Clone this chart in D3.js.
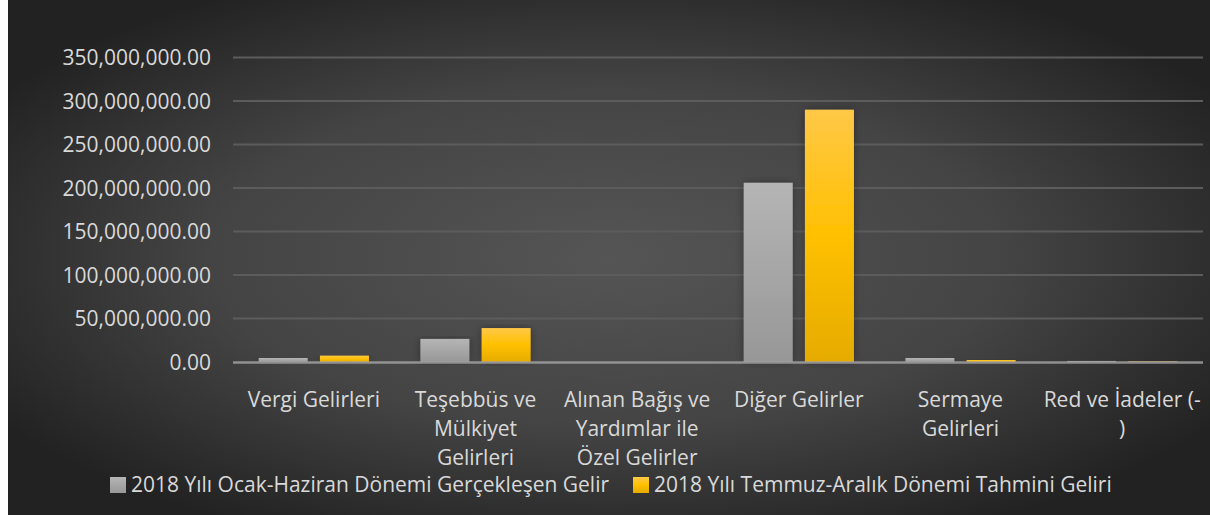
<!DOCTYPE html>
<html><head><meta charset="utf-8">
<script src="https://cdn.jsdelivr.net/npm/d3@7"></script>
<style>html,body{margin:0;padding:0;background:#fff;}svg{display:block;}</style>
</head><body>
<svg id="c" width="1210" height="515"></svg>
<script>
const categories = ["Vergi Gelirleri","Teşebbüs ve Mülkiyet Gelirleri","Alınan Bağış ve Yardımlar ile Özel Gelirler","Diğer Gelirler","Sermaye Gelirleri","Red ve İadeler (-)"];
const categoryLines = [["Vergi Gelirleri"],["Teşebbüs ve","Mülkiyet","Gelirleri"],["Alınan Bağış ve","Yardımlar ile","Özel Gelirler"],["Diğer Gelirler"],["Sermaye","Gelirleri"],["Red ve İadeler (-",")"]];
const seriesNames = ["2018 Yılı Ocak-Haziran Dönemi Gerçekleşen Gelir","2018 Yılı Temmuz-Aralık Dönemi Tahmini Geliri"];
const actualH1 = [4600000, 26500000, 0, 206000000, 4600000, 1200000];
const forecastH2 = [7300000, 39000000, 0, 290000000, 2300000, 700000];
const yTicks = [0,50000000,100000000,150000000,200000000,250000000,300000000,350000000];

(function(){
const svg = d3.select("#c");
const defs = svg.append("defs");
const bg = defs.append("radialGradient").attr("id","bg").attr("cx","0.5").attr("cy","0.5").attr("r","0.6");
bg.append("stop").attr("offset","0").attr("stop-color","#555555");
bg.append("stop").attr("offset","0.55").attr("stop-color","#444444");
bg.append("stop").attr("offset","1").attr("stop-color","#222222");
const gG = defs.append("linearGradient").attr("id","gGray").attr("x1",0).attr("y1",0).attr("x2",0).attr("y2",1);
gG.append("stop").attr("offset","0").attr("stop-color","#b5b5b5");
gG.append("stop").attr("offset","1").attr("stop-color","#979797");
const gO = defs.append("linearGradient").attr("id","gOrange").attr("x1",0).attr("y1",0).attr("x2",0).attr("y2",1);
gO.append("stop").attr("offset","0").attr("stop-color","#ffc847");
gO.append("stop").attr("offset","0.5").attr("stop-color","#ffc000");
gO.append("stop").attr("offset","1").attr("stop-color","#e5ab00");
const flt = defs.append("filter").attr("id","sh").attr("x","-30%").attr("y","-10%").attr("width","160%").attr("height","120%");
flt.append("feDropShadow").attr("dx",0).attr("dy",0).attr("stdDeviation",4).attr("flood-color","#000").attr("flood-opacity",0.35);

svg.append("rect").attr("x",8).attr("y",0).attr("width",1202).attr("height",515).attr("fill","url(#bg)");

const font = "'Open Sans', sans-serif";
const fs = "21px";
const pl = 233, pr = 1203, pt = 57.5, pb = 362;
const x = d3.scaleBand().domain(categories).range([pl,pr]).paddingInner(0).paddingOuter(0);
const y = d3.scaleLinear().domain([0,350000000]).range([pb,pt]);
const fmt = d3.format(",.2f");

svg.append("g").selectAll("line").data(yTicks.filter(d=>d>0)).join("line")
  .attr("x1",pl).attr("x2",pr).attr("y1",d=>y(d)).attr("y2",d=>y(d))
  .attr("stroke","#5c5c5c").attr("stroke-width",2);

const yAxis = d3.axisLeft(y).tickValues(yTicks).tickFormat(fmt).tickSize(0).tickPadding(22);
const ya = svg.append("g").attr("transform",`translate(${pl},0)`).call(yAxis);
ya.select(".domain").remove();
ya.selectAll("text").attr("fill","#d9d9d9").style("font-family",font).style("font-size",fs).attr("dy","0.35em");

const xs = d3.scaleBand().domain([0,1]).range([0,x.bandwidth()]).paddingInner(0.2).paddingOuter(0.42);
const series = [actualH1, forecastH2];
const fills = ["url(#gGray)","url(#gOrange)"];
series.forEach((vals,si)=>{
  svg.append("g").selectAll("rect").data(vals).join("rect")
    .attr("x",(d,i)=>x(categories[i])+xs(si))
    .attr("width",xs.bandwidth())
    .attr("y",d=>y(d))
    .attr("height",d=>pb-y(d))
    .attr("fill",fills[si])
    .attr("filter","url(#sh)");
});

svg.append("line").attr("x1",pl).attr("x2",pr).attr("y1",pb+0.5).attr("y2",pb+0.5)
  .attr("stroke","#a0a0a0").attr("stroke-opacity",0.85).attr("stroke-width",2.5);

const xl = svg.append("g");
categories.forEach((c,i)=>{
  const t = xl.append("text").attr("x",x(c)+x.bandwidth()/2).attr("y",407)
    .attr("text-anchor","middle").attr("fill","#d9d9d9").style("font-family",font).style("font-size",fs);
  categoryLines[i].forEach((ln,j)=>{
    t.append("tspan").attr("x",x(c)+x.bandwidth()/2).attr("dy", j===0?0:29).text(ln);
  });
});

const lg = svg.append("g");
const legX = [110, 633];
seriesNames.forEach((n,i)=>{
  lg.append("rect").attr("x",legX[i]).attr("y",477).attr("width",16).attr("height",16).attr("fill",fills[i]);
  lg.append("text").attr("x",legX[i]+21).attr("y",492).attr("fill","#d9d9d9")
    .style("font-family",font).style("font-size",fs).text(n);
});
})();
</script>
</body></html>
